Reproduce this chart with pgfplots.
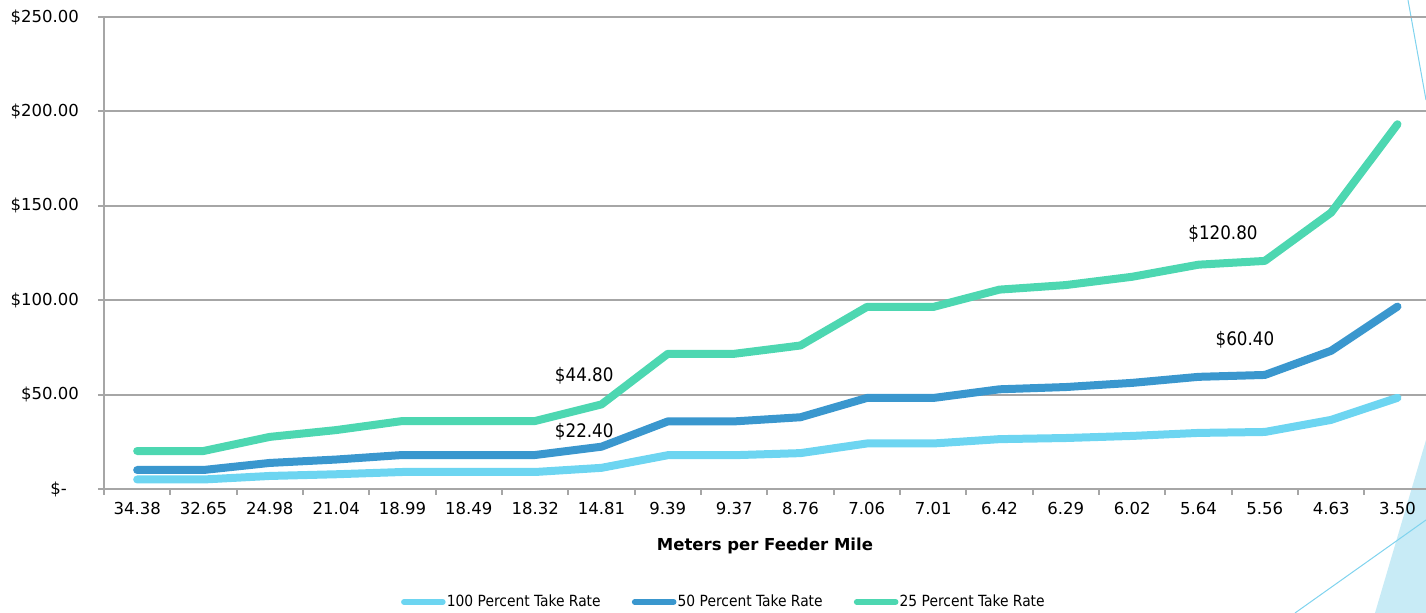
\documentclass[border=0pt]{standalone}
\usepackage{pgfplots}
\pgfplotsset{compat=1.18}
\usepackage{fontspec}
\setmainfont{DejaVu Sans}
\newfontfamily\condfont{DejaVu Sans Condensed}
\definecolor{c100}{HTML}{6DD5F1}
\definecolor{c50}{HTML}{3A97CE}
\definecolor{c25}{HTML}{4DD7B1}
\definecolor{gridc}{HTML}{A6A6A6}
\definecolor{deco}{HTML}{C8EBF6}
\definecolor{decoline}{HTML}{7FD3EE}

\pgfplotstableread{
x v100 v50 v25
0 5.03 10.06 20.12
1 5.03 10.06 20.12
2 6.90 13.80 27.60
3 7.80 15.60 31.20
4 9.00 18.00 36.00
5 9.00 18.00 36.00
6 9.00 18.00 36.00
7 11.20 22.40 44.80
8 17.90 35.80 71.60
9 17.90 35.80 71.60
10 19.00 38.00 76.00
11 24.10 48.20 96.40
12 24.10 48.20 96.40
13 26.40 52.80 105.60
14 27.00 54.00 108.00
15 28.10 56.20 112.40
16 29.70 59.40 118.80
17 30.20 60.40 120.80
18 36.60 73.20 146.40
19 48.30 96.60 193.20
}\datatable

\begin{document}
\begin{tikzpicture}
\useasboundingbox (-52pt,-62pt) rectangle (661pt,244.5pt);
% slide decorations
\fill[deco] (635.5pt,-62pt) -- (661pt,24.5pt) -- (661pt,-62pt) -- cycle;
\draw[decoline, line width=0.5pt] (652pt,244.5pt) -- (661pt,194.5pt);
\draw[decoline, line width=0.5pt] (595.5pt,-62pt) -- (661pt,-15.5pt);
\begin{axis}[
  at={(0pt,0pt)}, anchor=south west,
  scale only axis, width=661pt, height=236pt,
  xmin=-0.5, xmax=19.43, ymin=0, ymax=250,
  axis x line*=bottom, axis y line*=left,
  axis line style={gridc, line width=1pt, -},
  ytick={0,50,100,150,200,250},
  yticklabels={\$-\kern6pt,\$50.00,\$100.00,\$150.00,\$200.00,\$250.00},
  xtick={0,...,19},
  xticklabels={34.38,32.65,24.98,21.04,18.99,18.49,18.32,14.81,9.39,9.37,8.76,7.06,7.01,6.42,6.29,6.02,5.64,5.56,4.63,3.50},
  minor xtick={-0.5,0.5,...,18.5},
  major x tick style={draw=none},
  tick style={gridc, line width=1pt},
  tick align=outside,
  major tick length=3pt, minor tick length=3pt,
  ymajorgrids, grid style={gridc, line width=1pt},
  tick label style={font=\fontsize{8.25}{10}\selectfont, text=black},
  yticklabel style={anchor=east, xshift=-6pt},
  xticklabel style={anchor=north},
  xlabel={\textbf{Meters per Feeder Mile}},
  xlabel style={font=\fontsize{8.25}{10}\selectfont, at={(axis description cs:0.5,0)}, anchor=center, yshift=-28.5pt},
  legend style={at={(0.4686,-0.2394)}, anchor=center, draw=none, fill=none,
    font=\condfont\fontsize{7.7}{9}\selectfont,
    nodes={inner sep=0.6pt},
    /tikz/every even column/.append style={column sep=15pt},
    inner sep=0pt},
  legend columns=3,
  legend image code/.code={\draw[#1, line width=2.8pt, line cap=round] (0pt,0pt) -- (19.5pt,0pt);},
  every axis plot/.append style={line width=4pt, line cap=round, line join=round, no markers},
]
\addplot[c100] table[x=x, y=v100] {\datatable};
\addlegendentry{100 Percent Take Rate}
\addplot[c50] table[x=x, y=v50] {\datatable};
\addlegendentry{50 Percent Take Rate}
\addplot[c25] table[x=x, y=v25] {\datatable};
\addlegendentry{25 Percent Take Rate}
\node[font=\condfont\fontsize{9.3}{10}\selectfont] at (axis cs:6.74,59.9) {\$44.80};
\node[font=\condfont\fontsize{9.3}{10}\selectfont] at (axis cs:6.74,30.2) {\$22.40};
\node[font=\condfont\fontsize{9.3}{10}\selectfont] at (axis cs:16.37,135.1) {\$120.80};
\node[font=\condfont\fontsize{9.3}{10}\selectfont] at (axis cs:16.70,78.9) {\$60.40};
\end{axis}
\end{tikzpicture}
\end{document}
